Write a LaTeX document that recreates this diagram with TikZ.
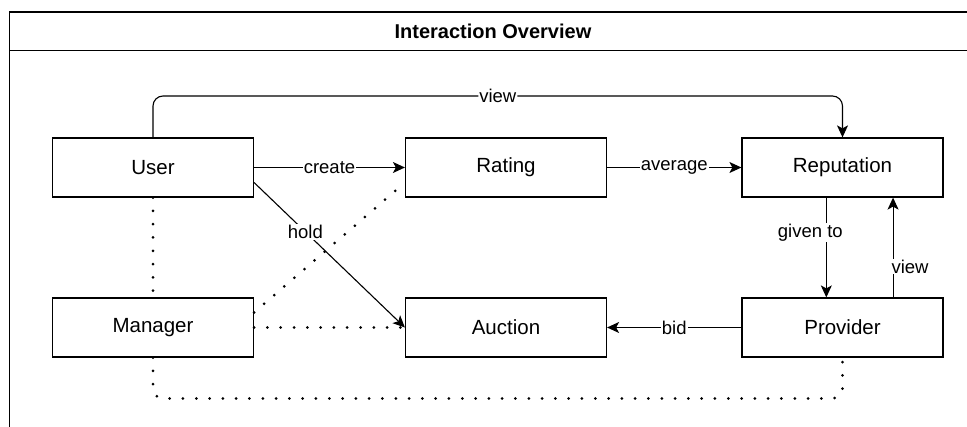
\documentclass[tikz,border=0pt]{standalone}
\usepackage{fontspec}
\setmainfont{Liberation Sans}
\usetikzlibrary{arrows.meta,calc}
\begin{document}
\begin{tikzpicture}[x=1pt,y=-1pt,
  box/.style={draw, line width=1.2pt, minimum width=201pt, minimum height=59pt,
    inner sep=0pt, font=\fontsize{20.5}{24}\selectfont},
  conn/.style={line width=1.1pt, -{Stealth[length=12pt,width=11pt,inset=3pt]}},
  dots/.style={line width=3pt, line cap=round, dash pattern=on 0pt off 13.3pt},
  lbl/.style={fill=white, inner sep=1pt, font=\fontsize{18.5}{22}\selectfont}]
\useasboundingbox (0,0) rectangle (967,427);
\clip (0,0) rectangle (967,427);

% container frame with its title band
\draw[line width=1.5pt] (9.5,460) -- (9.5,12) -- (990,12);
\draw[line width=1.5pt] (9.5,50.5) -- (990,50.5);
\node[font=\bfseries\fontsize{20}{24}\selectfont] (title) at (493,31) {Interaction Overview};

% actors and artefacts
\node[box] (User)       at (153,167.5)   {User};
\node[box] (Rating)     at (506,167.5)   {Rating};
\node[box] (Reputation) at (842.5,167.5) {Reputation};
\node[box] (Manager)    at (153,327.5)   {Manager};
\node[box] (Auction)    at (506,327.5)   {Auction};
\node[box] (Provider)   at (842.5,327.5) {Provider};

% helper coordinates for routed edges
\coordinate (viewtop) at (0,96);
\coordinate (dotbottom) at (0,398.5);

% solid relations
\draw[conn, rounded corners=10pt] (User.north) |- node[lbl, pos=0.75] {view}
  (Reputation.north |- viewtop) -- (Reputation.north);
\draw[conn] (User.east) -- node[lbl] {create} (Rating.west);
\draw[conn] (Rating.east) -- node[lbl] {average} (Reputation.west);
\draw[conn] ($(User.east)!0.5!(User.south east)$) -- node[lbl, pos=0.34] {hold} (Auction.west);
\draw[conn] ($(Reputation.south west)!0.42!(Reputation.south east)$) --
  node[lbl, pos=0.35, xshift=-16pt] {given to}
  ($(Provider.north west)!0.42!(Provider.north east)$);
\draw[conn] ($(Provider.north west)!0.75!(Provider.north east)$) --
  node[lbl, pos=0.31, xshift=17pt] {view}
  ($(Reputation.south west)!0.75!(Reputation.south east)$);
\draw[conn] (Provider.west) -- node[lbl] {bid} (Auction.east);

% manager's dotted links
\draw[dots] (User.south) -- (Manager.north);
\draw[dots] ($(Manager.east)!0.5!(Manager.north east)$) -- ($(Rating.west)!0.5!(Rating.south west)$);
\draw[dots] (Manager.east) -- (Auction.west);
\draw[dots, rounded corners=10pt] (Manager.south) |- (Provider.south |- dotbottom) -- (Provider.south);
\end{tikzpicture}
\end{document}
